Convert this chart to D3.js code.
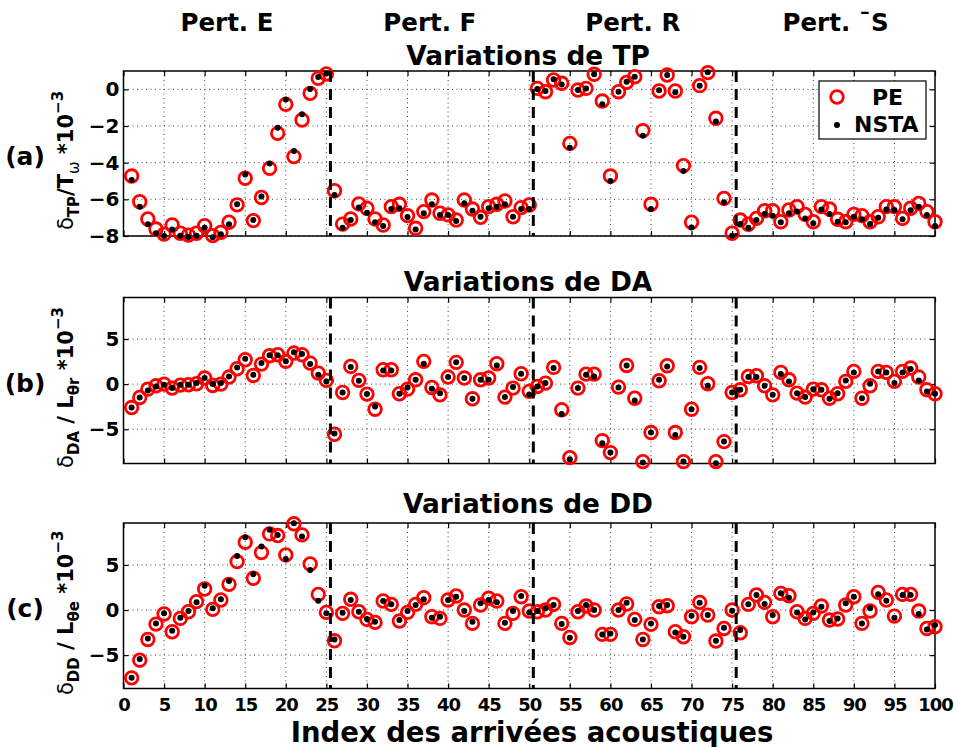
<!DOCTYPE html>
<html><head><meta charset="utf-8">
<script src="https://cdn.jsdelivr.net/npm/d3@7"></script>
<style>
html,body{margin:0;padding:0;background:#fff;}
svg{display:block;}
text{font-family:"DejaVu Sans",sans-serif;font-weight:bold;fill:#000;}
</style></head><body>
<svg id="chart" width="956" height="747"></svg>
<script>
// ---------------- DATA ----------------
const indices = d3.range(1, 101);
const xTicks = [0,5,10,15,20,25,30,35,40,45,50,55,60,65,70,75,80,85,90,95,100];
const yTicksA = [-8,-6,-4,-2,0];
const yTicksBC = [-5,0,5];
const sectionBounds = [25.5, 50.5, 75.5];
const sectionLabels = ["Pert. E","Pert. F","Pert. R","Pert. \u00AFS"];
const sectionCenters = [12.75, 37.75, 62.75, 87.75];
const legendLabels = ["PE","NSTA"];

const tpPE = [-4.73,-6.13,-7.07,-7.62,-7.9,-7.4,-7.85,-7.95,-7.85,-7.44,
-7.98,-7.8,-7.25,-6.3,-4.85,-7.16,-5.9,-4.31,-2.4,-0.82,
-3.67,-1.67,-0.22,0.6,0.84,-5.53,-7.35,-7.07,-6.25,-6.49,
-7.07,-7.4,-6.4,-6.27,-6.89,-7.58,-6.67,-6.04,-6.76,-6.85,
-7.13,-6.04,-6.53,-6.98,-6.4,-6.27,-6.09,-6.95,-6.45,-6.31,
0.05,-0.13,0.51,0.33,-2.95,-0.04,0.05,0.82,-0.64,-4.73,
-0.13,0.38,0.69,-2.25,-6.27,-0.09,0.78,-0.09,-4.16,-7.25,
0.2,0.91,-1.58,-5.95,-7.85,-7.13,-7.36,-7.04,-6.62,-6.62,
-7.22,-6.58,-6.4,-6.82,-7.22,-6.4,-6.53,-7.09,-7.22,-6.82,
-6.89,-7.22,-6.95,-6.4,-6.4,-7.04,-6.49,-6.22,-6.67,-7.22];
const tpNSTA = [-4.95,-6.4,-7.36,-7.85,-8.0,-7.65,-7.98,-8.05,-7.98,-7.55,
-8.07,-7.9,-7.36,-6.27,-4.64,-7.13,-5.85,-4.04,-2.09,-0.55,
-3.36,-1.36,0.02,0.67,0.87,-5.76,-7.55,-7.13,-6.45,-6.73,
-7.25,-7.45,-6.53,-6.49,-6.96,-7.65,-6.76,-6.27,-6.85,-6.85,
-7.18,-6.22,-6.62,-6.95,-6.49,-6.4,-6.27,-6.95,-6.53,-6.53,
0.02,-0.09,0.55,0.27,-3.18,-0.04,0.05,0.82,-0.82,-5.0,
-0.13,0.42,0.69,-2.53,-6.53,-0.05,0.78,-0.16,-4.45,-7.53,
0.2,0.93,-1.76,-6.16,-7.98,-7.35,-7.55,-7.13,-6.8,-6.89,
-7.25,-6.76,-6.67,-7.04,-7.31,-6.55,-6.8,-7.22,-7.25,-6.95,
-7.09,-7.35,-7.0,-6.55,-6.58,-7.09,-6.6,-6.4,-6.85,-7.45];

const daPE = [-2.6,-1.48,-0.56,-0.19,0,-0.44,-0.11,-0.07,0.04,0.67,
-0.15,0,0.78,1.7,2.7,0.96,2.22,3.15,3.26,2.52,
3.44,3.26,2.33,1.22,0.41,-5.56,-0.93,1.96,0.41,-1.11,
-2.78,1.59,1.59,-1.07,-0.56,0.48,2.52,-0.37,-1.19,0.78,
2.41,0.67,-1.63,0.48,0.67,2.26,-1.44,-0.44,1.15,-0.8,
-0.26,0.11,1.85,-2.85,-8.15,-0.44,1.11,1.11,-6.26,-7.59,
-0.33,2.07,-1.56,-8.59,-5.37,0.37,2.04,-5.37,-8.59,-2.78,
1.85,0.04,-8.59,-6.37,-0.93,-0.63,0.85,0.93,-0.19,-1.19,
1.3,0.48,-1.0,-1.44,-0.56,-0.63,-1.56,-1.07,0.3,1.41,
-1.56,-0.19,1.41,1.3,0.3,1.41,1.78,0.78,-0.63,-1.07];
const daNSTA = [-2.6,-1.48,-0.7,-0.26,-0.07,-0.44,-0.07,-0.07,0.11,0.67,
0,0.11,0.85,1.85,2.81,1.04,2.33,3.19,3.19,2.52,
3.52,3.33,2.22,1.04,0.3,-5.48,-0.93,1.89,0.37,-1.11,
-2.48,1.52,1.52,-1.07,-0.37,0.48,2.26,-0.52,-1.0,0.78,
2.41,0.67,-1.63,0.48,0.48,2.07,-1.44,-0.33,1.15,-1.15,
-0.26,0.11,1.78,-3.3,-8.33,-0.44,1.04,0.85,-6.56,-7.59,
-0.37,2.07,-1.81,-8.7,-5.37,0.48,1.96,-5.63,-8.59,-2.78,
1.78,-0.19,-8.78,-6.37,-0.93,-0.63,0.78,0.78,-0.19,-1.19,
1.11,0.3,-1.0,-1.44,-0.56,-0.63,-1.63,-1.0,0.41,1.3,
-1.56,0.04,1.41,1.3,0.11,1.3,1.67,0.41,-0.81,-1.07];

const ddPE = [-7.52,-5.56,-3.26,-1.56,-0.44,-2.41,-0.93,-0.19,0.93,2.33,
0.07,1.11,2.85,5.37,7.52,3.52,6.37,8.44,8.26,6.11,
9.56,8.33,5.11,1.74,-0.26,-3.41,-0.37,1.19,-0.19,-1.04,
-1.37,1.0,0.63,-1.22,-0.26,0.63,1.37,-0.74,-0.93,1.11,
1.56,0,-1.48,0.56,1.3,1.0,-1.48,-0.37,1.48,-0.11,
-0.19,0,0.63,-1.48,-3.04,-0.19,0.44,0,-2.7,-2.7,
0,0.67,-1.04,-3.26,-1.59,0.37,0.48,-2.41,-2.96,-0.74,
0.85,-0.56,-3.44,-2.04,0,-2.52,0.63,1.67,0.85,-0.74,
1.85,1.59,-0.19,-0.93,-0.37,0.44,-1.11,-1.0,0.56,1.48,
-1.48,-0.11,1.96,1.11,-0.67,1.74,1.74,-0.11,-2.04,-1.85];
const ddNSTA = [-7.52,-5.44,-3.15,-1.48,-0.37,-2.3,-0.85,-0.11,0.85,2.7,
0.19,1.19,3.22,6.0,8.07,3.96,7.04,8.89,8.33,5.67,
9.63,8.15,4.44,1.04,-0.37,-3.26,-0.3,1.11,-0.19,-1.0,
-1.3,1.0,0.63,-1.11,-0.11,0.56,1.19,-0.85,-0.74,1.11,
1.48,-0.11,-1.3,0.74,1.11,0.85,-1.41,-0.11,1.56,-0.26,
-0.11,0.19,0.56,-1.56,-3.07,-0.11,0.56,0,-2.7,-2.59,
0,0.81,-1.11,-3.26,-1.48,0.44,0.56,-2.48,-2.96,-0.63,
0.81,-0.56,-3.41,-1.96,-0.07,-2.22,0.63,1.67,0.67,-0.56,
1.85,1.37,-0.26,-1.04,-0.26,0.37,-1.22,-0.93,0.74,1.48,
-1.48,0.19,1.74,1.04,-0.85,1.67,1.67,-0.44,-2.15,-1.67];

// ---------------- LAYOUT ----------------
const svg = d3.select("#chart");
const x = d3.scaleLinear().domain([0,100]).range([123.5, 935]);

const panels = [
  {pe:tpPE, ns:tpNSTA, dom:[-8,1], range:[236,71], ticks:yTicksA,
   title:"Variations de TP", titleY:65, letter:"(a)",
   lab:[["δ",""],["TP","sub"],["/T",""],["ω","sub"],[" *10",""],["−3","sup"]]},
  {pe:daPE, ns:daNSTA, dom:[-8.8,9.6], range:[463.5,297.5], ticks:yTicksBC,
   title:"Variations de DA", titleY:291, letter:"(b)",
   lab:[["δ",""],["DA","sub"],[" / L",""],["θr","sub"],[" *10",""],["−3","sup"]]},
  {pe:ddPE, ns:ddNSTA, dom:[-8.7,9.65], range:[688.5,523], ticks:yTicksBC,
   title:"Variations de DD", titleY:513, letter:"(c)",
   lab:[["δ",""],["DD","sub"],[" / L",""],["θe","sub"],[" *10",""],["−3","sup"]]}
];

const fmt = d => d < 0 ? "\u2212" + Math.abs(d) : String(d);

panels.forEach((p, pi) => {
  const y = d3.scaleLinear().domain(p.dom).range(p.range);
  const g = svg.append("g");
  const x0 = x.range()[0], x1 = x.range()[1];
  const yT = p.range[1], yB = p.range[0];

  // grid
  g.append("g").selectAll("line").data(xTicks.slice(1, -1)).join("line")
    .attr("x1", d => x(d)).attr("x2", d => x(d)).attr("y1", yT).attr("y2", yB)
    .attr("stroke", "#444").attr("stroke-width", 1).attr("stroke-dasharray", "1,3.5");
  g.append("g").selectAll("line").data(p.ticks).join("line")
    .attr("x1", x0).attr("x2", x1).attr("y1", d => y(d)).attr("y2", d => y(d))
    .attr("stroke", "#444").attr("stroke-width", 1).attr("stroke-dasharray", "1,3.5");

  // axes (inward ticks on all sides)
  const bottom = d3.axisBottom(x).tickValues(xTicks).tickSize(-5).tickFormat(pi === 2 ? fmt : "");
  const top = d3.axisTop(x).tickValues(xTicks).tickSize(-5).tickFormat("");
  const left = d3.axisLeft(y).tickValues(p.ticks).tickSize(-5).tickFormat(fmt);
  const right = d3.axisRight(y).tickValues(p.ticks).tickSize(-5).tickFormat("");
  const styleAxis = sel => {
    sel.select(".domain").remove();
    sel.selectAll(".tick line").attr("stroke", "#000").attr("stroke-width", 1.2);
  };
  g.append("g").attr("transform", `translate(0,${yB})`).call(bottom).call(styleAxis)
    .selectAll("text").attr("dy", 0).attr("y", 711 - yB)
    .style("font-size", "18px").style("letter-spacing", "-1px")
    .style("font-family", "'DejaVu Sans',sans-serif").style("font-weight", "bold");
  g.append("g").attr("transform", `translate(0,${yT})`).call(top).call(styleAxis);
  g.append("g").attr("transform", `translate(${x0},0)`).call(left).call(styleAxis)
    .selectAll("text").attr("x", -4)
    .style("font-size", "20px").style("font-family", "'DejaVu Sans',sans-serif").style("font-weight", "bold");
  g.append("g").attr("transform", `translate(${x1},0)`).call(right).call(styleAxis);

  // frame
  g.append("rect").attr("x", x0).attr("y", yT).attr("width", x1 - x0).attr("height", yB - yT)
    .attr("fill", "none").attr("stroke", "#000").attr("stroke-width", 1.5);

  // points
  g.append("g").selectAll("circle").data(indices).join("circle")
    .attr("cx", d => x(d)).attr("cy", (d, i) => y(p.pe[i])).attr("r", 6.3)
    .attr("fill", "none").attr("stroke", "#ff0000").attr("stroke-width", 2.8);
  g.append("g").selectAll("circle").data(indices).join("circle")
    .attr("cx", d => x(d)).attr("cy", (d, i) => y(p.ns[i])).attr("r", 3)
    .attr("fill", "#000");

  // section separators
  g.append("g").selectAll("line").data(sectionBounds).join("line")
    .attr("x1", d => x(d)).attr("x2", d => x(d)).attr("y1", yT).attr("y2", yB)
    .attr("stroke", "#000").attr("stroke-width", 3).attr("stroke-dasharray", "11,7");

  // title
  svg.append("text").attr("x", 528).attr("y", p.titleY).attr("text-anchor", "middle")
    .style("font-size", "26.4px").text(p.title);

  // panel letter
  svg.append("text").attr("x", 25).attr("y", (yT + yB) / 2 + 11).attr("text-anchor", "middle")
    .style("font-size", "25px").text(p.letter);

  // y label
  const lt = svg.append("text")
    .attr("transform", `translate(73,${(yT + yB) / 2 + 7}) rotate(-90)`)
    .attr("text-anchor", "middle").style("font-size", "21px");
  let shift = 0;
  p.lab.forEach(([t, k]) => {
    const ts = lt.append("tspan").text(t);
    const target = k === "sub" ? 6 : k === "sup" ? -10 : 0;
    ts.attr("dy", target - shift);
    shift = target;
    if (k) ts.style("font-size", "15px");
    if (t === "δ" || t === "ω") ts.style("font-weight", "normal");
  });

  // legend (panel a only)
  if (pi === 0) {
    const lg = svg.append("g").attr("transform", "translate(819,81)");
    lg.append("rect").attr("width", 107).attr("height", 58).attr("fill", "#fff")
      .attr("stroke", "#000").attr("stroke-width", 1.2);
    lg.append("circle").attr("cx", 18).attr("cy", 16).attr("r", 6.3)
      .attr("fill", "none").attr("stroke", "#ff0000").attr("stroke-width", 2.8);
    lg.append("circle").attr("cx", 18).attr("cy", 44).attr("r", 3).attr("fill", "#000");
    lg.append("text").attr("x", 53).attr("y", 24).style("font-size", "22px").text(legendLabels[0]);
    lg.append("text").attr("x", 35).attr("y", 51).style("font-size", "22px").text(legendLabels[1]);
  }
});

// section labels
svg.append("g").selectAll("text").data(sectionLabels).join("text")
  .attr("x", (d, i) => x(sectionCenters[i])).attr("y", 31).attr("text-anchor", "middle")
  .style("font-size", "24.5px").text(d => d);

// x-axis title
svg.append("text").attr("x", 532).attr("y", 742).attr("text-anchor", "middle")
  .style("font-size", "27.5px")
  .text("Index des arrivées acoustiques");
</script>
</body></html>
